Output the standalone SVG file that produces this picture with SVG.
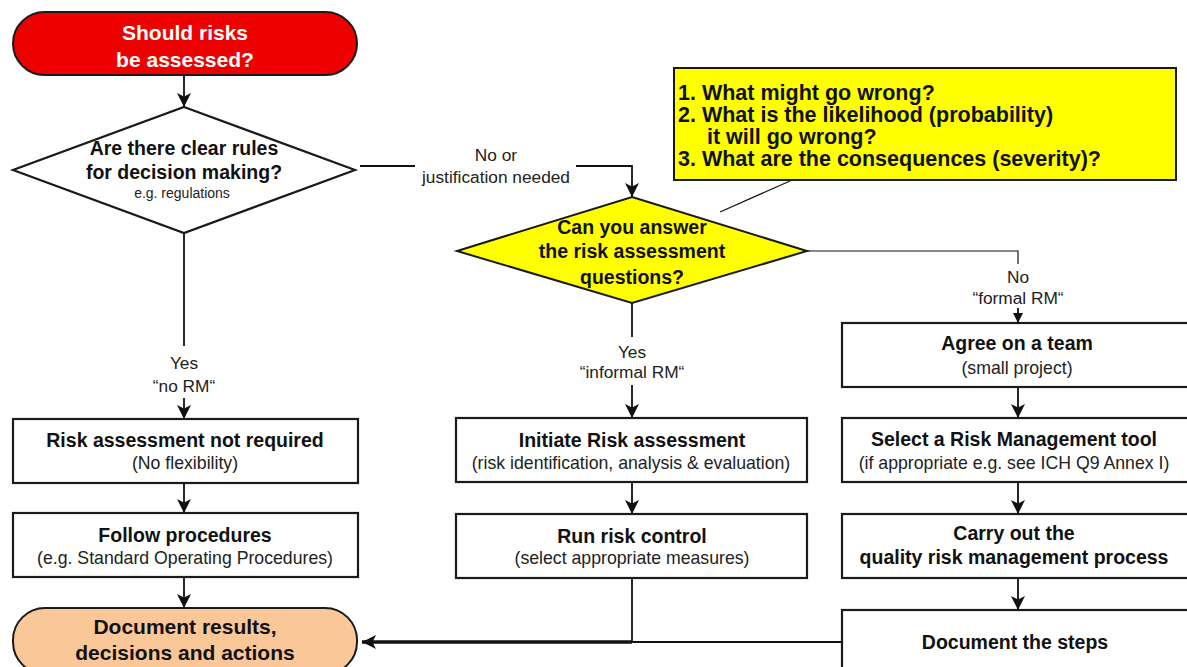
<svg xmlns="http://www.w3.org/2000/svg" width="1187" height="667" viewBox="0 0 1187 667">
<defs>
<style>
.b{fill:#fff;stroke:#1a1a1a;stroke-width:2.2}
.t{font-family:"Liberation Sans",Arial,sans-serif;font-weight:bold;font-size:19.5px;fill:#111;text-anchor:middle}
.s{font-family:"Liberation Sans",Arial,sans-serif;font-size:17.7px;fill:#222;text-anchor:middle}
.l{font-family:"Liberation Sans",Arial,sans-serif;font-size:17.3px;fill:#222;text-anchor:middle}
.q{font-family:"Liberation Sans",Arial,sans-serif;font-weight:bold;font-size:21.5px;fill:#111}
.c{fill:none;stroke:#111;stroke-width:1.8}
.ct{fill:none;stroke:#111;stroke-width:1.2}
</style>
<marker id="ah" viewBox="0 0 10 10" refX="10" refY="5" markerWidth="14" markerHeight="14" markerUnits="userSpaceOnUse" orient="auto">
<path d="M0,0 L10,5 L0,10 L2.5,5 Z" fill="#111"/>
</marker>
<marker id="ahs" viewBox="0 0 10 10" refX="10" refY="5" markerWidth="10" markerHeight="10" markerUnits="userSpaceOnUse" orient="auto">
<path d="M0,0 L10,5 L0,10 Z" fill="#111"/>
</marker>
</defs>
<rect width="1187" height="667" fill="#fff"/>

<g id="connectors">
<line class="c" x1="184" y1="75" x2="184" y2="107" marker-end="url(#ah)"/>
<line class="c" x1="360" y1="166" x2="415" y2="166"/>
<polyline class="c" points="576,166 632,166 632,197" marker-end="url(#ah)"/>
<line class="ct" x1="790" y1="181" x2="720" y2="212"/>
<polyline class="ct" points="807,251 1018,251 1018,264"/>
<line class="c" x1="1018" y1="308" x2="1018" y2="323" marker-end="url(#ahs)"/>
<line class="c" x1="184" y1="233" x2="184" y2="346"/>
<line class="c" x1="184" y1="398" x2="184" y2="419" marker-end="url(#ah)"/>
<line class="c" x1="184" y1="483" x2="184" y2="513" marker-end="url(#ah)"/>
<line class="c" x1="184" y1="577" x2="184" y2="608" marker-end="url(#ah)"/>
<line class="c" x1="632" y1="303" x2="632" y2="337"/>
<line class="c" x1="632" y1="385" x2="632" y2="418" marker-end="url(#ah)"/>
<line class="c" x1="632" y1="482" x2="632" y2="514" marker-end="url(#ah)"/>
<line class="c" x1="632" y1="578" x2="632" y2="642"/>
<line class="c" x1="1018" y1="387" x2="1018" y2="418" marker-end="url(#ah)"/>
<line class="c" x1="1018" y1="482" x2="1018" y2="514" marker-end="url(#ah)"/>
<line class="c" x1="1018" y1="578" x2="1018" y2="610" marker-end="url(#ah)"/>
<line class="c" x1="842" y1="642" x2="630" y2="642"/>
<line fill="none" stroke="#111" stroke-width="3.5" x1="632" y1="642" x2="362" y2="642" marker-end="url(#ah)"/>
<text class="l" x="496" y="161">No or</text>
<text class="l" x="496" y="183">justification needed</text>
<text class="l" x="1018" y="283">No</text>
<text class="l" x="1018" y="304">“formal RM“</text>
<text class="l" x="184" y="369">Yes</text>
<text class="l" x="184" y="392">“no RM“</text>
<text class="l" x="632" y="358">Yes</text>
<text class="l" x="632" y="378">“informal RM“</text>
</g>

<g id="start">
<rect x="13" y="12" width="344" height="63" rx="31.5" fill="#ee0000" stroke="#1a1a1a" stroke-width="2"/>
<text class="t" x="185" y="39.5" style="fill:#fff;font-size:21px">Should risks</text>
<text class="t" x="185" y="67" style="fill:#fff;font-size:21px">be assessed?</text>
</g>

<g id="rules">
<polygon points="184,107 355,170 184,233 13,170" class="b" stroke-width="2"/>
<text class="t" x="184" y="155">Are there clear rules</text>
<text class="t" x="184" y="179">for decision making?</text>
<text class="s" x="182" y="198" style="font-size:14px">e.g. regulations</text>
</g>

<g id="answer">
<polygon points="632,197 807,251 632,303 457,251" fill="#ffff00" stroke="#1a1a1a" stroke-width="2"/>
<text class="t" x="632" y="234">Can you answer</text>
<text class="t" x="632" y="258">the risk assessment</text>
<text class="t" x="632" y="284">questions?</text>
</g>

<g id="questions">
<rect x="674" y="68" width="502" height="112" fill="#ffff00" stroke="#1a1a1a" stroke-width="2"/>
<text class="q" x="678" y="99.5">1. What might go wrong?</text>
<text class="q" x="678" y="121.5">2. What is the likelihood (probability)</text>
<text class="q" x="707" y="143.5">it will go wrong?</text>
<text class="q" x="678" y="165.5">3. What are the consequences (severity)?</text>
</g>

<g id="not-required">
<rect class="b" x="13" y="419" width="345" height="64"/>
<text class="t" x="185" y="447">Risk assessment not required</text>
<text class="s" x="185" y="469">(No flexibility)</text>
</g>

<g id="follow">
<rect class="b" x="13" y="513" width="345" height="64"/>
<text class="t" x="185" y="542">Follow procedures</text>
<text class="s" x="185" y="564">(e.g. Standard Operating Procedures)</text>
</g>

<g id="document-results">
<rect x="13" y="608" width="344" height="66" rx="32" fill="#fac898" stroke="#1a1a1a" stroke-width="2"/>
<text class="t" x="185" y="633.5" style="font-size:21px">Document results,</text>
<text class="t" x="185" y="659.5" style="font-size:21px">decisions and actions</text>
</g>

<g id="initiate">
<rect class="b" x="456" y="418" width="351" height="64"/>
<text class="t" x="632" y="447">Initiate Risk assessment</text>
<text class="s" x="631" y="469">(risk identification, analysis &amp; evaluation)</text>
</g>

<g id="control">
<rect class="b" x="456" y="514" width="351" height="64"/>
<text class="t" x="632" y="543">Run risk control</text>
<text class="s" x="632" y="564">(select appropriate measures)</text>
</g>

<g id="team">
<rect class="b" x="842" y="323" width="360" height="64"/>
<text class="t" x="1017" y="350">Agree on a team</text>
<text class="s" x="1017" y="374">(small project)</text>
</g>

<g id="tool">
<rect class="b" x="842" y="418" width="360" height="64"/>
<text class="t" x="1014" y="446">Select a Risk Management tool</text>
<text class="s" x="1014" y="469">(if appropriate e.g. see ICH Q9 Annex I)</text>
</g>

<g id="process">
<rect class="b" x="842" y="514" width="360" height="64"/>
<text class="t" x="1014" y="540">Carry out the</text>
<text class="t" x="1014" y="564">quality risk management process</text>
</g>

<g id="document-steps">
<rect class="b" x="842" y="610" width="360" height="70"/>
<text class="t" x="1015" y="649">Document the steps</text>
</g>
</svg>
